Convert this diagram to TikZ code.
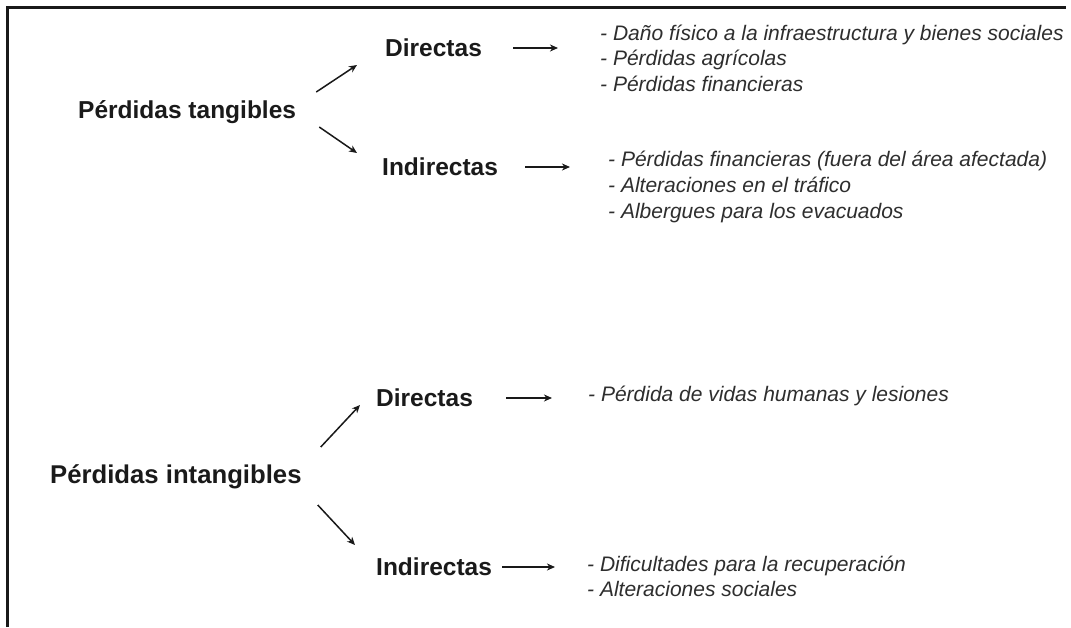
\documentclass[tikz,border=0pt]{standalone}
\usepackage{fontspec}
\setmainfont{Liberation Sans}
\usetikzlibrary{arrows.meta,calc}
\definecolor{headtxt}{HTML}{1A1A1A}
\definecolor{itemtxt}{HTML}{2E2E2E}
\tikzset{
  headbox/.style={anchor=west, inner sep=0pt, text height=17pt, text depth=0pt,
    font=\fontsize{24.5}{28}\selectfont\bfseries, text=headtxt},
  bighead/.style={headbox, font=\fontsize{25.7}{29}\selectfont\bfseries},
  itembox/.style={anchor=west, inner sep=0pt, text height=15pt, text depth=0pt,
    font=\fontsize{21}{25}\selectfont\itshape, text=itemtxt},
  conn/.style={line width=1.5pt, draw=black!90, -{Stealth[length=8pt,width=7pt,inset=2.5pt]}},
}
\begin{document}
\begin{tikzpicture}[x=1pt,y=-1pt]
\useasboundingbox (0,0) rectangle (1071,627);
\fill[white] (0,0) rectangle (1071,627);
% frame
\draw[line width=2.8pt, black!90] (7.5,627) -- (7.5,7.5) -- (1066,7.5);

% upper group
\node[headbox] (PT) at (78,110) {Pérdidas tangibles};
\node[headbox] (D1) at (385,48) {Directas};
\node[headbox] (I1) at (382,167) {Indirectas};

\node[itembox] (D1a) at (600,33) {- Daño físico a la infraestructura y bienes sociales};
\node[itembox] (D1b) at (600,58) {- Pérdidas agrícolas};
\node[itembox] (D1c) at (600,84) {- Pérdidas financieras};

\node[itembox] (I1a) at (608,159) {- Pérdidas financieras (fuera del área afectada)};
\node[itembox] (I1b) at (608,185) {- Alteraciones en el tráfico};
\node[itembox] (I1c) at (608,211) {- Albergues para los evacuados};

\draw[conn] ($(PT.east)+(20,-18)$) -- ($(D1.west)+(-28,17)$);
\draw[conn] ($(PT.east)+(23,17)$) -- ($(I1.west)+(-25,-14)$);
\draw[conn, shorten <=31pt, shorten >=42pt] (D1.east) -- (D1.east -| D1a.west);
\draw[conn, shorten <=27pt, shorten >=38pt] (I1.east) -- (I1.east -| I1a.west);

% lower group
\node[bighead] (PI) at (50,475) {Pérdidas intangibles};
\node[headbox] (D2) at (376,398) {Directas};
\node[headbox] (I2) at (376,567) {Indirectas};

\node[itembox] (D2a) at (588,394) {- Pérdida de vidas humanas y lesiones};

\node[itembox] (I2a) at (587,564) {- Dificultades para la recuperación};
\node[itembox] (I2b) at (587,589) {- Alteraciones sociales};

\draw[conn] ($(PI.east)+(19,-28)$) -- ($(D2.west)+(-16,7)$);
\draw[conn] ($(PI.east)+(16,30)$) -- ($(I2.west)+(-21,-22)$);
\draw[conn, shorten <=33pt, shorten >=36pt] (D2.east) -- (D2.east -| D2a.west);
\draw[conn, shorten <=10pt, shorten >=32pt] (I2.east) -- (I2.east -| I2a.west);
\end{tikzpicture}
\end{document}
